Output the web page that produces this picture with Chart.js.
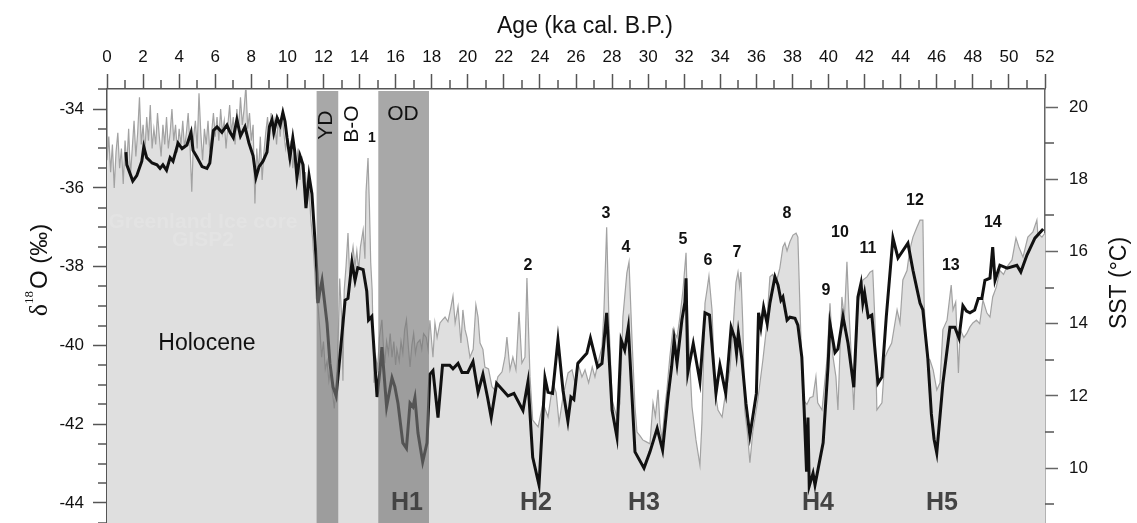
<!DOCTYPE html>
<html>
<head>
<meta charset="utf-8">
<script src="https://cdn.jsdelivr.net/npm/chart.js@4.4.1/dist/chart.umd.min.js"></script>
<style>
  body { margin: 0; background: #fff; }
  #wrap { width: 1137px; height: 523px; }
</style>
</head>
<body>
<div id="wrap"><canvas id="iceChart" width="1137" height="523"></canvas></div>
<script>
// Greenland ice core (GISP2) d18O, permil - left axis
const isoAge = [
  0.0, 0.1, 0.2, 0.3, 0.4, 0.5, 0.6, 0.7, 0.8, 0.9,
  1.0, 1.1, 1.2, 1.3, 1.4, 1.5, 1.6, 1.7, 1.8, 1.9,
  2.0, 2.1, 2.2, 2.3, 2.4, 2.5, 2.6, 2.7, 2.8, 2.9,
  3.0, 3.1, 3.2, 3.3, 3.4, 3.5, 3.6, 3.7, 3.8, 3.9,
  4.0, 4.1, 4.2, 4.3, 4.4, 4.5, 4.6, 4.7, 4.8, 4.9,
  5.0, 5.1, 5.2, 5.3, 5.4, 5.5, 5.6, 5.7, 5.8, 5.9,
  6.0, 6.1, 6.2, 6.3, 6.4, 6.5, 6.6, 6.7, 6.8, 6.9,
  7.0, 7.1, 7.2, 7.3, 7.4, 7.5, 7.6, 7.7, 7.8, 7.9,
  8.0, 8.1, 8.2, 8.3, 8.4, 8.5, 8.6, 8.7, 8.8, 8.9,
  9.0, 9.1, 9.2, 9.3, 9.4, 9.5, 9.6, 9.7, 9.8, 9.9,
  10.0, 10.1, 10.2, 10.3, 10.4, 10.5, 10.6, 10.7, 10.8, 10.9,
  11.0, 11.1, 11.2, 11.3, 11.4, 11.5, 11.6,
  11.7, 11.8, 11.9, 12.0, 12.1, 12.2, 12.3, 12.4, 12.5, 12.6,
  12.7, 12.8, 12.9, 13.0, 13.08, 13.15, 13.25, 13.36, 13.45, 13.55,
  13.64, 13.75, 13.85, 13.95, 14.05, 14.2, 14.3, 14.36, 14.47, 14.55,
  14.62, 14.7, 14.8, 14.9, 15.0, 15.1, 15.24, 15.32, 15.4, 15.5,
  15.6, 15.7, 15.8, 15.9, 16.0, 16.07, 16.2, 16.3, 16.4, 16.5,
  16.6, 16.7, 16.8, 16.9, 17.0, 17.1, 17.2, 17.35, 17.45, 17.55,
  17.7, 17.8, 17.9, 18.07, 18.18, 18.3, 18.46, 18.6, 18.74, 18.9,
  19.07, 19.18, 19.3, 19.46, 19.62, 19.73, 19.85, 19.96, 20.12, 20.3,
  20.45, 20.57, 20.68, 20.84, 20.95, 21.15, 21.34, 21.5, 21.67, 21.9,
  22.06, 22.17, 22.34, 22.5, 22.67, 22.84, 23.0, 23.17, 23.28, 23.45,
  23.6, 23.9, 24.17, 24.45, 24.72, 24.9, 25.06, 25.28, 25.56, 25.78,
  25.94, 26.1, 26.33, 26.5, 26.7, 26.9, 27.05, 27.22, 27.44, 27.55,
  27.7, 27.83, 28.0, 28.27, 28.44, 28.6, 28.82, 28.94, 29.1, 29.27,
  29.38, 29.55, 29.7, 29.9, 30.1, 30.27, 30.4, 30.55, 30.65, 30.77,
  30.93, 31.04, 31.2, 31.37, 31.6, 31.76, 31.93, 32.1, 32.2, 32.43,
  32.65, 32.87, 32.98, 33.15, 33.26, 33.37, 33.54, 33.7, 33.87, 34.1,
  34.26, 34.53, 34.7, 34.87, 34.98, 35.07, 35.14, 35.25, 35.35, 35.5,
  35.64, 35.8, 36.08, 36.36, 36.55, 36.75, 36.9, 37.1, 37.3, 37.47,
  37.58, 37.7, 37.86, 38.03, 38.2, 38.3, 38.42, 38.58, 38.8, 38.97,
  39.14, 39.3, 39.4, 39.64, 39.91, 40.08, 40.25, 40.41, 40.52, 40.74,
  40.88, 41.02, 41.13, 41.3, 41.4, 41.63, 41.9, 42.13, 42.3, 42.45,
  42.57, 42.68, 42.96, 43.13, 43.3, 43.5, 43.8, 43.96, 44.12, 44.35,
  44.5, 44.68, 44.9, 45.07, 45.23, 45.3, 45.45, 45.62, 45.8, 46.0,
  46.18, 46.34, 46.57, 46.8, 46.9, 47.05, 47.2, 47.3, 47.5, 47.67,
  47.84, 48.0, 48.2, 48.38, 48.56, 48.78, 48.95, 49.1, 49.3, 49.5,
  49.7, 49.9, 50.17, 50.39, 50.55, 50.78, 51.05, 51.33, 51.55, 51.6,
  51.83, 52.0
];
const isoVal = [
  -35.3, -34.7, -35.6, -34.9, -36.0, -35.1, -34.6, -35.5, -35.0, -35.9,
  -34.8, -35.4, -34.5, -35.7, -35.0, -34.3, -35.2, -34.6, -33.7, -34.9,
  -34.4, -35.1, -34.2, -34.8, -33.9, -35.0, -34.5, -34.9, -34.1, -34.7,
  -35.2, -34.4, -34.9, -34.2, -35.0, -34.6, -34.0, -34.8, -34.4, -35.1,
  -34.5, -34.9, -34.3, -35.0, -34.6, -34.1, -34.9, -36.1, -34.7, -34.3,
  -35.0, -33.6, -34.6, -35.3, -34.5, -34.9, -34.3, -35.1, -34.6, -34.1,
  -34.7, -34.2, -34.8, -34.0, -34.6, -34.3, -35.0, -34.4, -33.9, -34.6,
  -34.2, -34.9, -34.0, -34.5, -33.7, -34.4, -34.0, -33.4, -34.5, -34.1,
  -34.8, -34.4, -36.4, -35.0, -35.6, -34.7, -35.8, -35.1, -34.6, -34.2,
  -34.8, -34.1, -34.6, -34.3, -34.9, -34.2, -34.7, -34.1, -34.6, -35.0,
  -34.7, -35.3, -34.8, -35.5, -35.0, -35.4, -35.0, -35.8, -35.2, -36.0,
  -35.6, -36.4, -36.0, -36.8, -37.3, -38.0, -38.8,
  -39.0, -39.6, -40.3, -39.9, -40.6, -40.4, -40.9, -40.6, -41.2, -41.6,
  -41.0, -40.2, -38.3, -39.2, -40.9, -38.6, -38.0, -37.15, -38.2, -37.8,
  -37.5, -38.0, -37.6, -38.1, -37.5, -37.07, -37.8, -36.1, -35.24, -36.5,
  -37.9, -38.6, -40.95, -40.3, -40.6, -39.8, -39.35, -40.0, -40.45, -39.9,
  -40.2, -39.7, -40.3, -39.9, -40.5, -40.1, -40.4, -39.9, -40.2, -39.6,
  -39.35, -40.0, -40.55, -40.0, -39.7, -40.2, -39.94, -39.86, -40.1, -39.7,
  -39.8, -40.1, -39.36, -40.3, -39.43, -39.8, -39.43, -39.35, -39.28, -39.4,
  -39.02, -38.75, -39.43, -39.02, -39.94, -39.1, -39.6, -39.8, -40.3, -40.1,
  -38.97, -39.28, -39.94, -40.1, -40.55, -40.6, -41.05, -41.13, -40.8, -40.67,
  -40.3, -39.79, -40.62, -40.3, -40.62, -39.15, -40.45, -40.3, -38.29, -40.8,
  -41.9, -42.07, -41.47, -41.82, -40.95, -41.2, -41.97, -41.3, -40.7, -40.62,
  -40.95, -40.45, -40.8, -40.62, -40.95, -40.55, -40.8, -40.45, -40.04, -39.1,
  -37.0, -39.43, -41.4, -41.82, -41.47, -39.28, -38.16, -37.88, -39.79, -41.56,
  -42.2, -42.3, -42.4, -42.45, -42.5, -41.46, -41.8, -41.13, -41.97, -42.4,
  -41.56, -41.13, -40.3, -39.6, -39.8, -39.28, -38.6, -37.65, -39.43, -41.56,
  -42.4, -43.04, -41.97, -38.93, -38.6, -38.24, -39.1, -41.13, -41.64, -41.82,
  -41.3, -40.62, -39.6, -38.4, -38.14, -38.5, -38.14, -39.5, -41.64, -42.2,
  -42.98, -42.2, -41.38, -40.37, -39.6, -38.26, -38.2, -38.4, -38.04, -37.5,
  -37.4, -37.6, -37.37, -37.2, -37.15, -37.25, -39.1, -41.38, -41.5, -41.33,
  -41.3, -40.8, -41.46, -41.64, -40.37, -38.93, -40.3, -40.8, -41.64, -38.77,
  -39.3, -37.88, -39.1, -40.62, -41.64, -38.93, -38.34, -38.26, -38.14, -38.1,
  -39.36, -41.64, -41.46, -40.3, -40.12, -39.94, -39.1, -39.43, -38.34, -38.1,
  -37.58, -37.25, -37.0, -36.82, -36.82, -38.93, -40.3, -40.37, -40.62, -41.13,
  -40.95, -39.6, -39.36, -38.47, -39.1, -38.9, -40.7, -39.6, -39.8, -39.69,
  -39.53, -39.43, -39.36, -39.45, -38.85, -39.18, -39.28, -38.77, -38.52, -38.1,
  -38.2, -38.0, -37.83, -37.27, -37.5, -37.76, -37.25, -37.12, -36.82, -37.15,
  -37.25, -37.15
];

// Sea surface temperature, deg C - right axis
const sstAge = [
  1.05, 1.1, 1.43, 1.65, 1.93, 2.04, 2.2, 2.5, 2.77, 2.94,
  3.1, 3.3, 3.5, 3.66, 3.94, 4.16, 4.43, 4.66, 4.77, 5.0,
  5.27, 5.54, 5.7, 5.9, 6.1, 6.37, 6.65, 6.82, 7.0, 7.2,
  7.4, 7.65, 7.87, 8.1, 8.26, 8.43, 8.65, 8.87, 9.0, 9.15,
  9.25, 9.43, 9.6, 9.75, 9.87, 9.98, 10.14, 10.3, 10.4, 10.53,
  10.7, 10.87, 11.03, 11.2, 11.36, 11.53, 11.64, 11.7, 11.8, 11.92,
  12.2, 12.36, 12.53, 12.7, 12.8, 13.08, 13.2, 13.36, 13.58, 13.75,
  13.9, 14.2, 14.4, 14.5, 14.68, 14.8, 14.97, 15.13, 15.24, 15.5,
  15.8, 15.96, 16.13, 16.4, 16.6, 16.8, 16.96, 17.07, 17.24, 17.5,
  17.74, 17.9, 18.07, 18.35, 18.6, 19.0, 19.18, 19.46, 19.68, 20.0,
  20.29, 20.57, 20.84, 21.1, 21.3, 21.6, 21.96, 22.23, 22.56, 23.06,
  23.34, 23.6, 23.95, 24.28, 24.45, 24.7, 25.0, 25.28, 25.55, 25.72,
  25.88, 26.1, 26.4, 26.6, 26.8, 27.0, 27.2, 27.44, 27.7, 28.0,
  28.27, 28.5, 28.7, 28.9, 29.27, 29.77, 30.1, 30.5, 30.8, 31.1,
  31.3, 31.44, 31.6, 31.87, 32.04, 32.1, 32.2, 32.5, 32.87, 33.15,
  33.4, 33.76, 33.98, 34.3, 34.6, 34.8, 34.9, 35.0, 35.2, 35.42,
  35.64, 36.0, 36.12, 36.25, 36.4, 36.6, 36.75, 37.03, 37.2, 37.36,
  37.47, 37.7, 37.86, 38.14, 38.3, 38.52, 38.65, 38.78, 38.86, 38.93,
  39.14, 39.25, 39.7, 39.97, 40.08, 40.36, 40.52, 40.8, 41.08, 41.4,
  41.63, 41.8, 41.9, 42.0, 42.2, 42.4, 42.74, 42.96, 43.2, 43.57,
  43.85, 44.4, 44.68, 44.8, 45.07, 45.23, 45.5, 45.7, 45.85, 46.0,
  46.34, 46.73, 47.0, 47.23, 47.45, 47.65, 47.84, 48.1, 48.3, 48.5,
  48.67, 48.95, 49.1, 49.23, 49.5, 49.9, 50.44, 50.66, 51.0, 51.44,
  51.9
];
const sstVal = [
  18.75, 18.4, 17.95, 18.1, 18.5, 18.9, 18.6, 18.45, 18.4, 18.3,
  18.4, 18.25, 18.6, 18.5, 19.0, 18.85, 18.95, 19.3, 18.8, 18.6,
  18.35, 18.3, 18.45, 19.35, 19.45, 19.3, 19.5, 19.3, 19.15, 19.65,
  19.2, 19.45, 19.0, 18.65, 18.05, 18.35, 18.5, 18.75, 19.45, 19.65,
  19.3, 19.7, 19.5, 19.85, 19.6, 19.15, 18.6, 19.15, 18.8, 18.05,
  18.65, 18.4, 17.2, 18.1, 17.6, 16.3, 15.4, 14.57, 14.9, 15.2,
  14.0, 12.9, 12.25, 12.0, 12.5, 14.0, 14.65, 14.7, 15.7, 15.2,
  15.55, 15.5, 14.9, 14.1, 14.2, 13.3, 11.97, 12.7, 13.35, 11.7,
  12.5, 12.25, 11.8, 10.7, 10.55, 11.8, 11.7, 11.95, 10.97, 10.17,
  10.7, 12.6, 12.7, 11.4, 12.85, 12.85, 12.75, 12.9, 12.65, 12.65,
  12.95, 12.1, 12.6, 11.95, 11.4, 12.35, 12.15, 12.0, 12.07, 11.6,
  12.4, 10.3, 9.53, 12.5, 12.1, 12.07, 13.55, 12.15, 11.3, 11.97,
  11.9, 12.9, 13.07, 13.18, 13.6, 13.2, 12.8, 12.9, 14.3, 11.6,
  10.86, 13.55, 13.27, 13.9, 10.45, 10.0, 10.45, 11.1, 10.5, 11.97,
  12.8, 13.55, 12.9, 14.1, 14.6, 15.26, 12.65, 13.45, 12.4, 14.3,
  14.24, 12.07, 12.85, 12.07, 13.9, 13.6, 13.18, 13.74, 13.0, 11.8,
  10.9, 12.07, 14.3, 13.9, 14.46, 14.0, 14.57, 15.3, 15.07, 14.65,
  14.74, 14.1, 14.18, 14.15, 13.96, 13.07, 11.6, 9.9, 11.4, 9.5,
  9.86, 9.53, 10.7, 12.8, 14.0, 13.2, 13.3, 14.2, 13.46, 12.24,
  14.74, 15.12, 14.57, 14.85, 14.18, 14.24, 12.35, 12.52, 14.18, 16.37,
  15.82, 16.23, 15.48, 15.2, 14.57, 14.38, 13.07, 11.5, 10.8, 10.42,
  12.35, 13.9, 13.9, 13.6, 14.5, 14.35, 14.3, 14.38, 14.7, 14.7,
  15.2, 15.26, 16.12, 15.2, 15.62, 15.54, 15.62, 15.43, 15.9, 16.37,
  16.62
];

// Shaded stadials (Younger Dryas, Oldest Dryas), ka
const bandStart = [11.62, 15.04];
const bandEnd = [12.82, 17.85];

// Interstadial numbers, anchored in age / SST units
const eventLabels = ['1', '2', '3', '4', '5', '6', '7', '8', '9', '10', '11', '12', '13', '14'];
const eventAge = [14.69, 23.34, 27.66, 28.77, 31.93, 33.31, 34.92, 37.69, 39.86, 40.63, 42.18, 44.79, 46.78, 49.11];
const eventSst = [19.14, 15.6, 17.06, 16.12, 16.34, 15.76, 15.96, 17.04, 14.93, 16.51, 16.09, 17.4, 15.62, 16.81];

// Heinrich events
const heinrichLabels = ['H1', 'H2', 'H3', 'H4', 'H5'];
const heinrichAge = [16.63, 23.78, 29.77, 39.41, 46.29];
const heinrichSst = 9.03;

const fontFamily = "'Liberation Sans', Arial, sans-serif";
Chart.defaults.font.family = fontFamily;
Chart.defaults.color = '#111';

const isoPoints = isoAge.map((a, i) => ({ x: a, y: isoVal[i] }));
const sstPoints = sstAge.map((a, i) => ({ x: a, y: sstVal[i] }));

// Minor ticks, shaded bands, annotations and axis titles
const overlay = {
  id: 'overlay',
  afterDatasetsDraw(chart) {
    const { ctx, chartArea: a, scales: { x, y2 } } = chart;
    ctx.save();

    ctx.fillStyle = 'rgba(121,121,121,0.65)';
    bandStart.forEach((s, i) => {
      const x0 = x.getPixelForValue(s);
      const x1 = x.getPixelForValue(bandEnd[i]);
      ctx.fillRect(x0, a.top + 2, x1 - x0, a.bottom - a.top - 2);
    });

    ctx.textAlign = 'center';
    ctx.textBaseline = 'middle';

    // faint watermark on the ice core fill
    ctx.fillStyle = 'rgba(255,255,255,0.14)';
    ctx.font = 'bold 21px ' + fontFamily;
    ctx.fillText('Greenland Ice core', x.getPixelForValue(5.32), y2.getPixelForValue(16.81));
    ctx.fillText('GISP2', x.getPixelForValue(5.32), y2.getPixelForValue(16.32));

    ctx.fillStyle = '#111';
    ctx.font = '23px ' + fontFamily;
    ctx.fillText('Holocene', x.getPixelForValue(5.54), y2.getPixelForValue(13.46));
    ctx.font = '21px ' + fontFamily;
    ctx.fillText('OD', x.getPixelForValue(16.41), y2.getPixelForValue(19.81));
    [['YD', 12.14, 19.5], ['B-O', 13.58, 19.53]].forEach(([t, age, v]) => {
      ctx.save();
      ctx.translate(x.getPixelForValue(age), y2.getPixelForValue(v));
      ctx.rotate(-Math.PI / 2);
      ctx.fillText(t, 0, 0);
      ctx.restore();
    });

    eventLabels.forEach((t, i) => {
      ctx.font = (i === 0 ? 'bold 14px ' : 'bold 16px ') + fontFamily;
      ctx.fillText(t, x.getPixelForValue(eventAge[i]), y2.getPixelForValue(eventSst[i]));
    });

    ctx.fillStyle = '#444';
    ctx.font = 'bold 25px ' + fontFamily;
    heinrichLabels.forEach((t, i) => {
      ctx.fillText(t, x.getPixelForValue(heinrichAge[i]), y2.getPixelForValue(heinrichSst));
    });
    ctx.restore();
  },
  afterDraw(chart) {
    const { ctx, chartArea: a, scales: { x, y, y2 } } = chart;
    ctx.save();
    ctx.strokeStyle = '#555';
    ctx.lineWidth = 1.5;
    ctx.beginPath();
    for (let v = 1; v < 52; v += 2) {
      const px = Math.round(x.getPixelForValue(v));
      ctx.moveTo(px, a.top);
      ctx.lineTo(px, a.top - 9);
    }
    for (let v = -44.5; v <= -33.5; v += 0.5) {
      if (v % 2 === 0) continue;
      const py = Math.round(y.getPixelForValue(v));
      ctx.moveTo(a.left - 9, py);
      ctx.lineTo(a.left, py);
    }
    for (let v = 9; v <= 19; v += 2) {
      const py = Math.round(y2.getPixelForValue(v));
      ctx.moveTo(a.right, py);
      ctx.lineTo(a.right + 9, py);
    }
    ctx.stroke();

    // axis titles
    ctx.fillStyle = '#111';
    ctx.textAlign = 'center';
    ctx.textBaseline = 'middle';
    ctx.font = '23px ' + fontFamily;
    ctx.fillText('Age (ka cal. B.P.)', (a.left + a.right) / 2 + 9, 27);

    ctx.save();
    ctx.translate(1120, 283);
    ctx.rotate(-Math.PI / 2);
    ctx.fillText('SST (°C)', 0, 0);
    ctx.restore();

    // delta 18 O with superscript
    ctx.save();
    ctx.translate(38, 270);
    ctx.rotate(-Math.PI / 2);
    ctx.textAlign = 'left';
    ctx.textBaseline = 'alphabetic';
    const big = '24px ' + fontFamily;
    const serif = '26px "Liberation Serif", "DejaVu Serif", serif';
    const small = '13px "Liberation Serif", serif';
    ctx.font = serif;
    const wD = ctx.measureText('δ').width;
    ctx.font = small;
    const w18 = ctx.measureText('18').width;
    ctx.font = big;
    const wO = ctx.measureText('O (‰)').width;
    let cx = -(wD + w18 + 2 + wO) / 2;
    const base = 9;
    ctx.font = serif;
    ctx.fillText('δ', cx, base);
    cx += wD;
    ctx.font = small;
    ctx.fillText('18', cx, base - 14);
    cx += w18 + 2;
    ctx.font = big;
    ctx.fillText('O (‰)', cx, base);
    ctx.restore();

    ctx.restore();
  }
};

const tickFont = { size: 17, family: fontFamily };

// fixed axis sizes so the plot area matches the original figure
const fixTop = s => { s.height = 89; s.paddingLeft = 0; s.paddingRight = 0; };
const fixLeft = s => { s.width = 107; s.paddingTop = 0; s.paddingBottom = 0; };
const fixRight = s => { s.width = 92; s.paddingTop = 0; s.paddingBottom = 0; };

new Chart(document.getElementById('iceChart'), {
  type: 'line',
  data: {
    datasets: [
      {
        label: 'SST',
        data: sstPoints,
        yAxisID: 'y2',
        borderColor: '#111',
        borderWidth: 3,
        pointRadius: 0,
        fill: false,
        tension: 0,
        order: 1
      },
      {
        label: 'GISP2 d18O',
        data: isoPoints,
        yAxisID: 'y',
        borderColor: '#a2a2a2',
        borderWidth: 1.2,
        backgroundColor: '#dfdfdf',
        pointRadius: 0,
        fill: 'start',
        tension: 0,
        order: 2
      }
    ]
  },
  options: {
    responsive: false,
    animation: false,
    devicePixelRatio: 1,
    layout: { padding: 0 },
    plugins: {
      legend: { display: false },
      tooltip: { enabled: false }
    },
    scales: {
      x: {
        type: 'linear',
        position: 'top',
        min: 0,
        max: 52,
        afterFit: fixTop,
        ticks: { stepSize: 2, font: tickFont, color: '#111', padding: 6, maxRotation: 0, autoSkip: false },
        grid: { drawOnChartArea: false, tickLength: 15, color: '#555', tickWidth: 1.5 },
        border: { color: '#555', width: 1.5 }
      },
      y: {
        position: 'left',
        min: -44.51,
        max: -33.49,
        afterFit: fixLeft,
        ticks: { stepSize: 2, includeBounds: false, font: tickFont, color: '#111', padding: 9 },
        grid: { drawOnChartArea: false, tickLength: 14, color: '#555', tickWidth: 1.5 },
        border: { color: '#555', width: 1.5 }
      },
      y2: {
        position: 'right',
        min: 8.48,
        max: 20.5,
        afterFit: fixRight,
        ticks: { stepSize: 2, includeBounds: false, font: tickFont, color: '#111', padding: 11 },
        grid: { drawOnChartArea: false, tickLength: 13, color: '#666', tickWidth: 1.5 },
        border: { color: '#666', width: 1.5 }
      }
    }
  },
  plugins: [overlay]
});
</script>
</body>
</html>
